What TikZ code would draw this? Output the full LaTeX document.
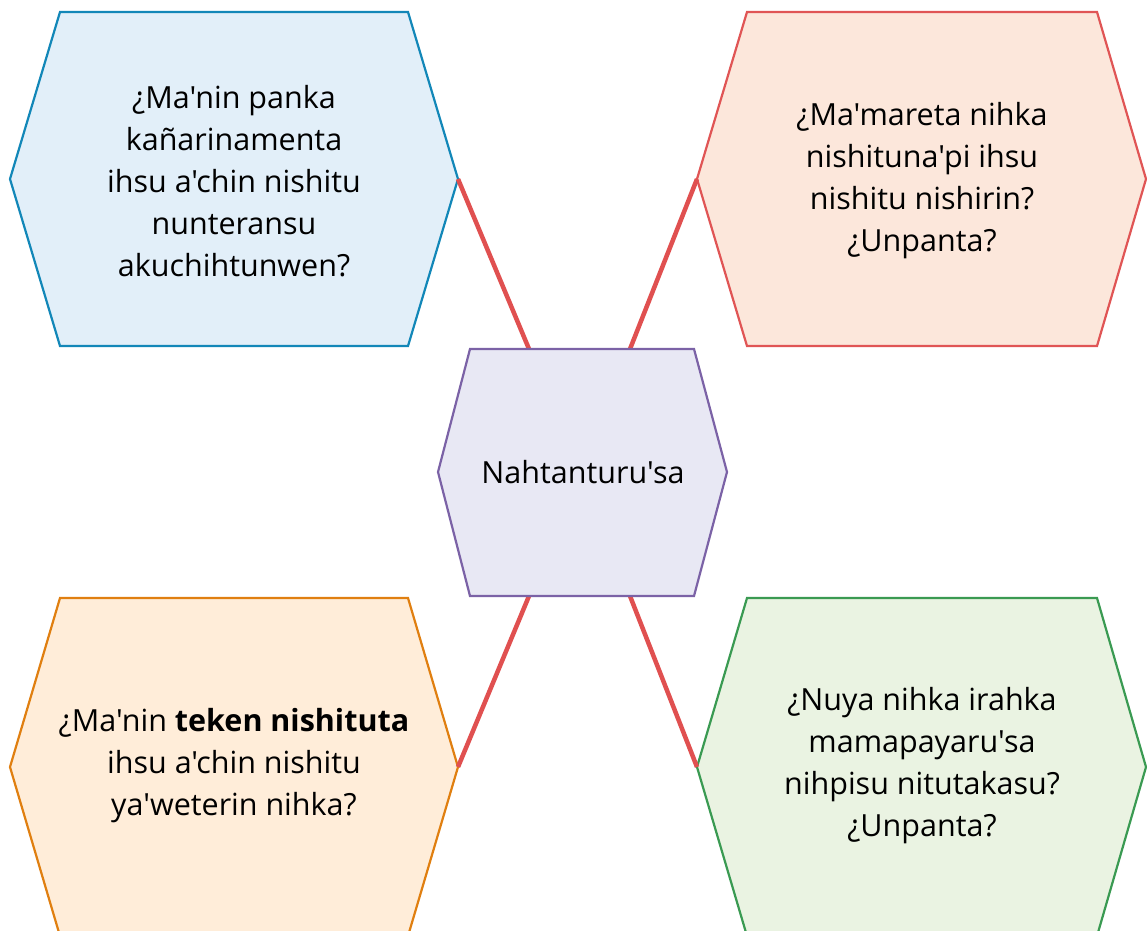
\documentclass[tikz,border=0pt]{standalone}
\usepackage{fontspec}
\setmainfont{Open Sans}[Ligatures=TeXOff]
\definecolor{bluestroke}{HTML}{1287B8}
\definecolor{bluefill}{HTML}{E2EFF9}
\definecolor{redstroke}{HTML}{E05555}
\definecolor{redfill}{HTML}{FCE7DB}
\definecolor{purstroke}{HTML}{7B62A6}
\definecolor{purfill}{HTML}{E8E8F4}
\definecolor{orstroke}{HTML}{E07F10}
\definecolor{orfill}{HTML}{FFEDD9}
\definecolor{grstroke}{HTML}{3A9A52}
\definecolor{grfill}{HTML}{EAF3E2}
\definecolor{linkred}{HTML}{E05050}
\begin{document}
\begin{tikzpicture}[x=1pt,y=-1pt,
  hexa/.style={line width=2.2pt, line join=miter},
  label/.style={align=center, font=\fontsize{30.5}{42}\selectfont, text=black},
  link/.style={draw=linkred, line width=4.5pt}]
\useasboundingbox (0,0) rectangle (1147,930);
% top-left
\draw[hexa, draw=bluestroke, fill=bluefill] (60,12) -- (408,12) -- (458,179) coordinate (tlR) -- (408,346) -- (60,346) -- (10,179) -- cycle;
\node[label] (tl) at (234,181) {¿Ma'nin panka\\kañarinamenta\\ihsu a'chin nishitu\\nunteransu\\akuchihtunwen?};
% top-right
\draw[hexa, draw=redstroke, fill=redfill] (747,12) -- (1097,12) -- (1146,179) -- (1097,346) -- (747,346) -- (697,179) coordinate (trL) -- cycle;
\node[label] (tr) at (922,181) {¿Ma'mareta nihka\\nishituna'pi ihsu\\nishitu nishirin?\\¿Unpanta?};
% bottom-left
\draw[hexa, draw=orstroke, fill=orfill] (60,598) -- (408,598) -- (458,767) coordinate (blR) -- (408,936) -- (60,936) -- (10,767) -- cycle;
\node[label] (bl) at (234,766) {¿Ma'nin \textbf{teken nishituta}\\ihsu a'chin nishitu\\ya'weterin nihka?};
% bottom-right
\draw[hexa, draw=grstroke, fill=grfill] (747,598) -- (1097,598) -- (1146,767) -- (1097,936) -- (747,936) -- (697,767) coordinate (brL) -- cycle;
\node[label] (br) at (922,766) {¿Nuya nihka irahka\\mamapayaru'sa\\nihpisu nitutakasu?\\¿Unpanta?};
% connectors (drawn before centre)
\coordinate (cTL) at (529,349);
\coordinate (cTR) at (630,349);
\coordinate (cBL) at (529,596);
\coordinate (cBR) at (630,596);
\draw[link] (tlR) -- (cTL);
\draw[link] (trL) -- (cTR);
\draw[link] (blR) -- (cBL);
\draw[link] (brL) -- (cBR);
% centre
\draw[hexa, draw=purstroke, fill=purfill] (470,349) -- (694,349) -- (727,472) -- (694,596) -- (470,596) -- (438,472) -- cycle;
\node[label] (c) at (583,472) {Nahtanturu'sa};
\end{tikzpicture}
\end{document}
